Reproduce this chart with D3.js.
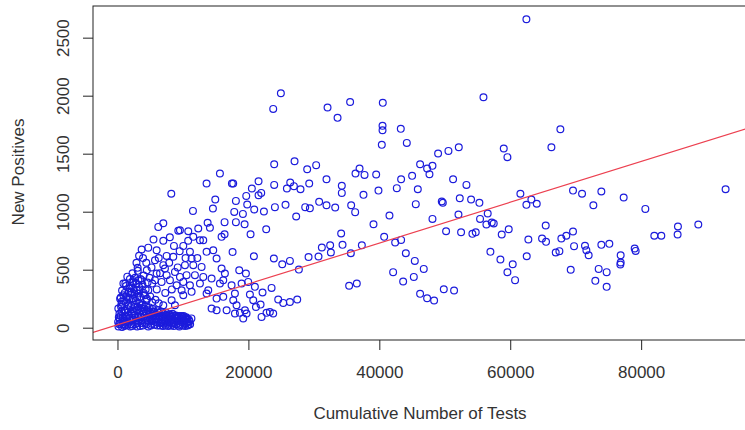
<!DOCTYPE html>
<html>
<head>
<meta charset="utf-8">
<script src="https://cdn.jsdelivr.net/npm/d3@7/dist/d3.min.js"></script>
<style>
  html, body { margin: 0; padding: 0; background: #fff; }
  svg { display: block; }
  text { font-family: "Liberation Sans", Arial, sans-serif; fill: #333; }
</style>
</head>
<body>
<svg id="chart" width="745" height="430"></svg>
<script>
// [cumulative tests, new positives] per reported day
const observations = [
  // high counts
  [24960,2021],[23790,1886],[23940,1409],[27050,1435],[28980,1366],
  [62470,2659],[32090,1898],[35540,1946],[33620,1809],[40530,1938],[40490,1740],[40490,1702],
  [43280,1714],[40380,1576],[44200,1593],[55910,1987],[48980,1502],[50560,1524],[52140,1556],
  [59010,1545],[59570,1470],[30350,1401],[36980,1372],[46230,1409],[47300,1372],[48120,1395],
  [67660,1711],[66290,1556],
  // up to ~30k tests, above ~750 positives
  [15650,1329],[13610,1243],[17480,1243],[17680,1243],[21550,1263],[20530,1200],[23940,1231],
  [26390,1251],[25880,1200],[26950,1220],[27960,1194],[29290,1243],
  [8220,1154],[19670,1136],[21550,1142],[21960,1162],[14940,1105],[18090,1093],[19820,1062],
  [20890,1019],[22370,1001],[24050,1039],[25670,1059],[28680,1039],[29390,1030],[11530,1007],
  [14580,1027],[17840,998],[19160,981],[27300,958],[7000,901],[13770,904],[16360,910],
  [18090,910],[19420,892],[16360,806],[20330,806],[22720,849],
  [3690,674],[3080,516],[4480,495],
  // 5k-16k tests, middle band
  [6234,869],[9542,840],[9288,835],[10814,832],[12340,855],[14122,861],[15903,783],[11578,783],
  [12596,754],[13105,754],[5980,668],[7507,619],[8524,611],[8626,705],[10051,705],[11069,654],
  [13613,654],[14631,668],[15140,596],[11323,596],[10306,539],[11578,539],[12850,524],[15903,510],
  [5725,582],[6998,539],[7252,510],[5980,467],[7507,453],[8779,481],[9542,438],[10560,453],
  [11832,453],[13105,438],[14377,424],[5725,410],[6743,395],[8015,410],[9033,366],[10051,395],
  [11069,366],[12596,381],[15649,381],[9796,323],[10051,280],[11323,309],[13868,323],[13613,295],
  [15140,251],[16158,266],[14377,165],[15140,151],[8270,237],[8779,194],[6998,194],[5471,137],
  [5200,520],[6300,600],[4900,430],[6500,470],[7900,560],[9200,520],[8300,330],[7300,300],
  [6000,330],[5300,380],[4400,560],[3900,600],[2900,560],[3300,620],[4700,690],[5500,760],
  [10400,600],[12200,600],[9500,660],[7000,750],[8000,780],[10800,750],
  // under 5k tests, rising arm
  [2418,401],[3690,410],[1909,338],[2926,323],[4708,323],[1400,266],[2418,251],[3436,266],
  [4453,237],[1654,194],[2672,180],[3690,194],[636,223],[128,165],[1145,151],[2163,309],
  [891,280],[3181,295],[4199,280],
  [400,250],[700,320],[900,380],[1100,300],[1300,360],[1500,440],[1700,310],[1900,420],
  [2100,360],[2300,470],[2500,330],[2700,430],[2900,380],[3100,490],[3300,350],[3500,420],
  [3800,370],[4000,450],[4300,330],[4600,390],[600,200],[1000,230],[1600,260],[2000,300],
  [2600,290],[3000,260],[3400,330],[4000,300],[4500,250],[5000,270],[5300,220],[5800,240],
  [6300,210],[200,90],[500,260],[1200,380],[1800,340],[2400,390],[3200,410],
  // early days, low counts
  [150,10],[420,35],[700,5],[950,60],[1200,20],[1450,90],[1700,45],[1950,10],[2200,120],
  [2450,70],[2700,30],[2950,150],[3200,95],[3450,15],[3700,60],[3950,125],[4200,40],[4450,85],
  [4700,10],[4950,140],[5200,55],[5450,100],[5700,25],[5950,70],[6200,130],[6450,40],[6700,90],
  [6950,15],[7200,60],[7450,110],[7700,35],[7950,80],[8200,20],[8450,65],[8700,105],[8950,30],
  [9200,75],[9450,10],[9700,50],[9950,90],[10200,35],[10450,70],[10700,20],[11000,55],[11300,80],
  [300,120],[550,180],[800,90],[1050,150],[1300,220],[1550,160],[1800,240],[2050,190],[2300,250],
  [2550,200],[2800,230],[3050,180],[3300,210],[3600,170],[3850,200],[4100,165],[4350,185],
  [4650,150],[4900,175],[5150,120],[5400,160],[5650,135],[5900,110],[6150,150],[6400,95],
  [6650,140],[6900,120],[7150,85],[7400,130],[7650,100],[7900,115],[8150,95],[8400,120],
  [8650,60],[8900,105],[9150,95],[9400,100],[9650,80],[9900,95],[10150,60],[10400,85],
  [10650,75],[10900,70],
  [100,50],[350,75],[600,140],[850,30],[1100,100],[1350,50],[1600,130],[1850,85],[2100,30],
  [2350,160],[2600,110],[2850,60],[3100,40],[3350,130],[3600,90],[3850,20],[4100,100],[4350,130],
  [4600,60],[4850,95],[5100,20],[5350,70],[5600,110],[5850,50],[6100,20],[6350,70],[6600,50],
  [6850,100],[7100,35],[7350,20],[7600,70],[7850,50],[8100,110],[8350,40],[8600,15],[8850,80],
  [9100,55],[9350,90],[9600,25],[9850,70],[10100,100],[10350,15],[10600,50],[10850,25],
  [250,30],[500,100],[750,60],[1000,15],[1250,130],[1500,25],[1750,110],[2000,60],[2250,15],
  [2500,140],[2750,90],[3000,10],[3250,60],[3500,110],[3750,40],[4000,140],[4250,75],[4500,30],
  [4750,110],[5000,80],[5250,35],[5500,140],[5750,80],[6000,45],[6250,100],[6500,20],[6750,65],
  [7000,125],[7250,45],[7500,85],[7750,15],[8000,60],[8250,100],[8500,35],[8750,45],[9000,90],
  [9250,20],[9500,60],[9750,100],[10000,20],[10250,55],[10500,90],[10750,45],[11100,30],
  // 16k-30k tests, below ~700 positives
  [20840,616],[23890,596],[25170,547],[26340,576],[27710,501],[29190,610],[17583,653],[16410,467],
  [16160,409],[18600,495],[19620,467],[19970,395],[18960,381],[17430,366],[17940,294],[20990,352],
  [22160,303],[23540,343],[20230,286],[20740,237],[21860,199],[21150,179],[17685,237],[18190,194],
  [16670,151],[17940,122],[18700,128],[19470,151],[19720,122],[19210,79],[22010,93],[22770,128],
  [23280,136],[23790,122],[24555,243],[25320,214],[26340,222],[27460,243],
  // 30k-63k tests
  [36360,1329],[37740,1317],[39520,1320],[31930,1280],[34270,1223],[34270,1162],[37580,1145],
  [39870,1182],[43330,1280],[45010,1309],[42670,1203],[45880,1194],[47660,1323],[51270,1280],
  [53310,1231],[52290,1116],[54020,1105],[55290,1076],[61550,1154],[62470,1059],[45570,1065],
  [49540,1088],[49700,1076],[30810,1085],[31930,1056],[33260,1036],[35700,1056],[36310,996],
  [41550,967],[39110,892],[48120,938],[52090,976],[56560,984],[55390,938],[56360,889],[57180,906],
  [57480,898],[50200,832],[52490,823],[54220,809],[54730,823],[58700,803],[59770,849],[62770,760],
  [34170,812],[34380,714],[32490,711],[31220,691],[30710,614],[32600,648],[35650,642],[37330,711],
  [40740,783],[42420,734],[43330,757],[44050,642],[45420,576],[46790,507],[45270,438],[43640,398],
  [42110,479],[56970,654],[58500,588],[60380,547],[59570,478],[60740,410],[62520,616],[35390,361],
  [36560,381],[46230,292],[47300,254],[48370,234],[49850,332],[51420,321],
  // 63k tests and beyond
  [63230,1105],[64050,1068],[69590,1182],[70970,1154],[73920,1174],[72700,1056],[77330,1122],
  [80640,1024],[92900,1194],[65420,881],[64860,769],[65470,740],[67810,769],[68570,792],
  [69590,829],[69750,703],[71420,706],[71630,668],[71980,625],[66950,648],[67510,660],
  [73920,714],[75140,723],[76870,625],[76870,562],[76820,545],[79010,683],[79160,662],
  [82010,792],[83080,792],[85620,872],[85570,803],[88730,889],[69240,499],[73510,507],
  [74730,479],[73000,404],[74730,352]
];

const xTicks = [0, 20000, 40000, 60000, 80000];
const yTicks = [0, 500, 1000, 1500, 2000, 2500];
// least-squares fit of new positives on cumulative tests
const fitIntercept = 25;
const fitSlope = 0.0176;

const svg = d3.select("#chart");
const box = { left: 93, right: 754, top: 6, bottom: 340 };

const x = d3.scaleLinear().domain([-3740, 97240]).range([box.left, box.right]);
const y = d3.scaleLinear().domain([-106, 2773]).range([box.bottom, box.top]);

svg.append("clipPath").attr("id", "plot-clip")
  .append("rect")
  .attr("x", box.left).attr("y", box.top)
  .attr("width", box.right - box.left).attr("height", box.bottom - box.top);

// points
svg.append("g")
  .selectAll("circle")
  .data(observations)
  .join("circle")
  .attr("cx", d => x(d[0]))
  .attr("cy", d => y(d[1]))
  .attr("r", 3.4)
  .attr("fill", "none")
  .attr("stroke", "#1c1cdc")
  .attr("stroke-width", 1.2);

// fitted line across the whole plot region
const xDom = x.domain();
svg.append("line")
  .attr("clip-path", "url(#plot-clip)")
  .attr("x1", x(xDom[0])).attr("y1", y(fitIntercept + fitSlope * xDom[0]))
  .attr("x2", x(xDom[1])).attr("y2", y(fitIntercept + fitSlope * xDom[1]))
  .attr("stroke", "#ec4050")
  .attr("stroke-width", 1.2);

// plot frame
svg.append("rect")
  .attr("x", box.left).attr("y", box.top)
  .attr("width", box.right - box.left).attr("height", box.bottom - box.top)
  .attr("fill", "none").attr("stroke", "#222").attr("stroke-width", 1);

// x axis
const gx = svg.append("g")
  .attr("transform", `translate(0,${box.bottom})`)
  .call(d3.axisBottom(x).tickValues(xTicks).tickFormat(d3.format("d")).tickSize(10).tickPadding(16));
gx.select(".domain").remove();
gx.selectAll(".tick line").attr("stroke", "#222");
gx.selectAll(".tick text")
  .attr("fill", "#333")
  .style("font-size", "17px")
  .style("font-family", "'Liberation Sans', Arial, sans-serif");

// y axis, labels parallel to the axis
const gy = svg.append("g")
  .attr("transform", `translate(${box.left},0)`)
  .call(d3.axisLeft(y).tickValues(yTicks).tickFormat(d3.format("d")).tickSize(10));
gy.select(".domain").remove();
gy.selectAll(".tick line").attr("stroke", "#222");
gy.selectAll(".tick text")
  .attr("x", null)
  .attr("dy", "0.35em")
  .attr("text-anchor", "middle")
  .attr("transform", "translate(-30,0) rotate(-90)")
  .attr("fill", "#333")
  .style("font-size", "17px")
  .style("font-family", "'Liberation Sans', Arial, sans-serif");

// axis titles
svg.append("text")
  .attr("x", 420).attr("y", 419)
  .attr("text-anchor", "middle")
  .style("font-size", "17px")
  .text("Cumulative Number of Tests");

svg.append("text")
  .attr("transform", "translate(24,172) rotate(-90)")
  .attr("text-anchor", "middle")
  .style("font-size", "17px")
  .text("New Positives");
</script>
</body>
</html>
